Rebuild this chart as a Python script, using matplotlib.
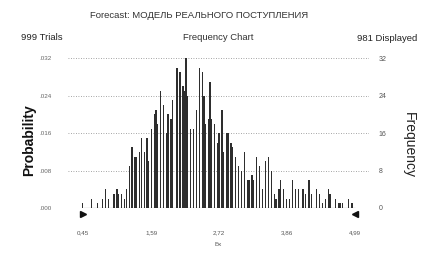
import numpy as np
import matplotlib.pyplot as plt
from matplotlib.ticker import FuncFormatter

plt.rcParams['font.family'] = ['Liberation Sans', 'DejaVu Sans']

# Данные (центры интервалов и частоты)
bins = [0.45, 0.60, 0.70, 0.78, 0.83, 0.88, 0.97, 1.02, 1.05, 1.10, 1.15, 1.18,
        1.23, 1.27, 1.32, 1.35, 1.40, 1.43, 1.48, 1.52, 1.55, 1.60, 1.64, 1.67,
        1.70, 1.75, 1.79, 1.84, 1.87, 1.92, 1.95, 2.02, 2.07, 2.12, 2.14, 2.17,
        2.20, 2.25, 2.29, 2.35, 2.39, 2.44, 2.47, 2.50, 2.54, 2.57, 2.60, 2.64,
        2.69, 2.72, 2.77, 2.80, 2.85, 2.87, 2.92, 2.95, 3.00, 3.04, 3.09, 3.14,
        3.19, 3.22, 3.27, 3.30, 3.35, 3.40, 3.45, 3.49, 3.54, 3.59, 3.64, 3.67,
        3.72, 3.75, 3.80, 3.85, 3.89, 3.95, 3.99, 4.04, 4.12, 4.16, 4.22, 4.26,
        4.34, 4.39, 4.44, 4.49, 4.54, 4.57, 4.66, 4.71, 4.74, 4.78, 4.88, 4.94]
freq = [1, 2, 1, 2, 4, 2, 3, 4, 3, 3, 2, 4,
        9, 13, 11, 11, 12, 15, 12, 15, 10, 17, 20, 21,
        18, 25, 22, 16, 20, 19, 23, 30, 29, 26, 25, 32,
        24, 17, 17, 21, 30, 29, 24, 18, 19, 27, 19, 18,
        14, 16, 21, 12, 16, 16, 14, 13, 11, 9, 8, 12,
        6, 6, 7, 6, 11, 9, 4, 10, 11, 8, 3, 2,
        4, 6, 4, 2, 2, 6, 4, 4, 4, 3, 6, 3,
        4, 3, 1, 2, 4, 3, 2, 1, 1, 1, 2, 1]
trials = 999
x_ticks = [0.45, 1.59, 2.72, 3.86, 4.99]
prob_ticks = [0.000, 0.008, 0.016, 0.024, 0.032]
freq_ticks = [0, 8, 16, 24, 32]

fig = plt.figure(figsize=(4.24, 2.59), dpi=100)
ax = fig.add_axes([0.160, 0.197, 0.710, 0.583])
ax2 = ax.twinx()

ax2.bar(bins, freq, width=0.02, color='#2e2e2e', linewidth=0, zorder=3)
ax2.hlines(0, x_ticks[0], x_ticks[-1], color='#333333', lw=0.8, zorder=4)

ax.set_xlim(0.20, 5.22)
ax.set_ylim(0, 0.0323)
ax2.set_ylim(0, 32.3)

for v in freq_ticks[1:]:
    ax2.axhline(v, color='#888888', lw=0.6, ls=(0, (1, 2)), zorder=1)
ax2.axvline(5.22, color='#aaaaaa', lw=0.6, ls=(0, (1, 2)))

for a in (ax, ax2):
    for s in a.spines.values():
        s.set_visible(False)

ax.set_yticks(prob_ticks)
ax.yaxis.set_major_formatter(FuncFormatter(lambda v, p: f'{v:.3f}'[1:]))
ax.tick_params(axis='y', length=0, labelsize=4.5, labelcolor='#666666', pad=12)
ax2.set_yticks(freq_ticks)
ax2.tick_params(axis='y', length=0, labelsize=5, labelcolor='#555555', pad=7)

ax.set_xticks(x_ticks)
ax.xaxis.set_major_formatter(FuncFormatter(lambda v, p: f'{v:.2f}'.replace('.', ',')))
ax.tick_params(axis='x', length=0, labelsize=4.5, labelcolor='#555555', pad=16)

# маркеры границ диапазона
ax2.plot([x_ticks[0]], [-1.3], marker='>', color='#111111', ms=4, clip_on=False)
ax2.plot([x_ticks[-1]], [-1.3], marker='<', color='#111111', ms=4, clip_on=False)

ax.set_xlabel('Бх', fontsize=4.5, color='#555555', labelpad=5)

fig.text(0.068, 0.46, 'Probability', rotation=90, ha='center', va='center',
         fontsize=10, fontweight='bold', color='#111111')
fig.text(0.965, 0.44, 'Frequency', rotation=-90, ha='center', va='center',
         fontsize=10, color='#222222')

fig.text(0.47, 0.94, 'Forecast: МОДЕЛЬ РЕАЛЬНОГО ПОСТУПЛЕНИЯ', ha='center', va='center',
         fontsize=6.8, color='#333333')
fig.text(0.05, 0.855, '999 Trials', ha='left', va='center', fontsize=6.8, color='#222222')
fig.text(0.515, 0.855, 'Frequency Chart', ha='center', va='center', fontsize=6.8, color='#333333')
fig.text(0.985, 0.852, '981 Displayed', ha='right', va='center', fontsize=6.8, color='#222222')

fig.savefig('out.png', dpi=100)
